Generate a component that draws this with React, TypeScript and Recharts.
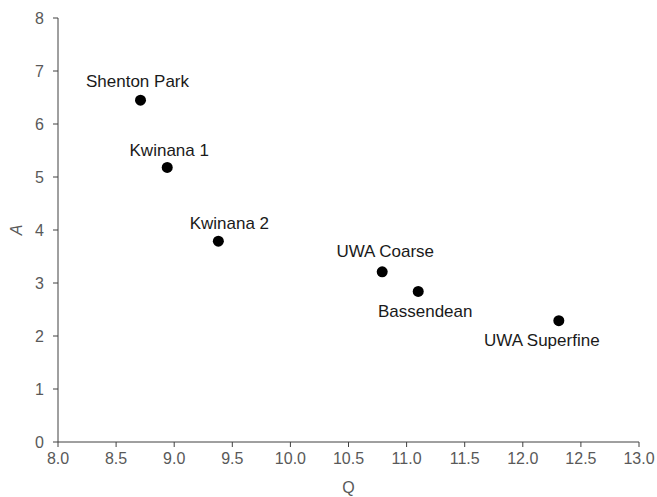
import { ScatterChart, Scatter, XAxis, YAxis, LabelList } from 'recharts';

const sites = ['Shenton Park', 'Kwinana 1', 'Kwinana 2', 'UWA Coarse', 'Bassendean', 'UWA Superfine'];
const qValues = [8.71, 8.94, 9.38, 10.79, 11.1, 12.31];
const aValues = [6.45, 5.18, 3.79, 3.21, 2.84, 2.29];

const xTicks = [8.0, 8.5, 9.0, 9.5, 10.0, 10.5, 11.0, 11.5, 12.0, 12.5, 13.0];
const yTicks = [0, 1, 2, 3, 4, 5, 6, 7, 8];

// where each site's name sits relative to its dot
const labelShift: Record<string, [number, number]> = {
  'Shenton Park': [-3, -19],
  'Kwinana 1': [2, -17],
  'Kwinana 2': [11, -18],
  'UWA Coarse': [3, -20],
  'Bassendean': [7, 20],
  'UWA Superfine': [-17, 20],
};

const data = sites.map((name, i) => ({ name, q: qValues[i], a: aValues[i] }));

const FONT = '"Liberation Sans", Arial, sans-serif';
const axisColor = '#404040';
const tickColor = '#595959';

const SiteLabel = (props: any) => {
  const { x, y, width, height, value } = props;
  const [dx, dy] = labelShift[value] || [0, -18];
  return (
    <text
      x={x + width / 2 + dx}
      y={y + height / 2 + dy}
      textAnchor="middle"
      dominantBaseline="central"
      fontFamily={FONT}
      fontSize={17}
      fill="#1a1a1a"
    >
      {value}
    </text>
  );
};

const Dot = (props: any) => <circle cx={props.cx} cy={props.cy} r={5.5} fill="#000" />;

export default function App() {
  return (
    <div style={{ position: 'absolute', left: 0, top: 0, background: '#fff' }}>
      <ScatterChart width={657} height={497} margin={{ top: 18, right: 18, bottom: 0, left: 0 }}>
        <XAxis
          type="number"
          dataKey="q"
          domain={[8, 13]}
          ticks={xTicks}
          tickFormatter={(v: number) => v.toFixed(1)}
          interval={0}
          height={55}
          tickSize={5}
          tickMargin={6}
          stroke={axisColor}
          tick={{ fill: tickColor, fontSize: 16, fontFamily: FONT }}
          label={(p: any) => {
            const vb = p.viewBox;
            return (
              <text x={vb.x + vb.width / 2} y={vb.y + 51} textAnchor="middle" fontFamily={FONT} fontSize={16} fill={tickColor}>
                Q
              </text>
            );
          }}
        />
        <YAxis
          type="number"
          dataKey="a"
          domain={[0, 8]}
          ticks={yTicks}
          interval={0}
          width={58}
          tickSize={5}
          tickMargin={9}
          stroke={axisColor}
          tick={{ fill: tickColor, fontSize: 16, fontFamily: FONT }}
          label={(p: any) => {
            const vb = p.viewBox;
            const cx = 16;
            const cy = vb.y + vb.height / 2;
            return (
              <text
                x={cx}
                y={cy}
                textAnchor="middle"
                dominantBaseline="central"
                transform={`rotate(-90, ${cx}, ${cy})`}
                fontFamily={FONT}
                fontStyle="italic"
                fontSize={16}
                fill={tickColor}
              >
                A
              </text>
            );
          }}
        />
        <Scatter data={data} shape={Dot} isAnimationActive={false}>
          <LabelList dataKey="name" content={SiteLabel} />
        </Scatter>
      </ScatterChart>
    </div>
  );
}
